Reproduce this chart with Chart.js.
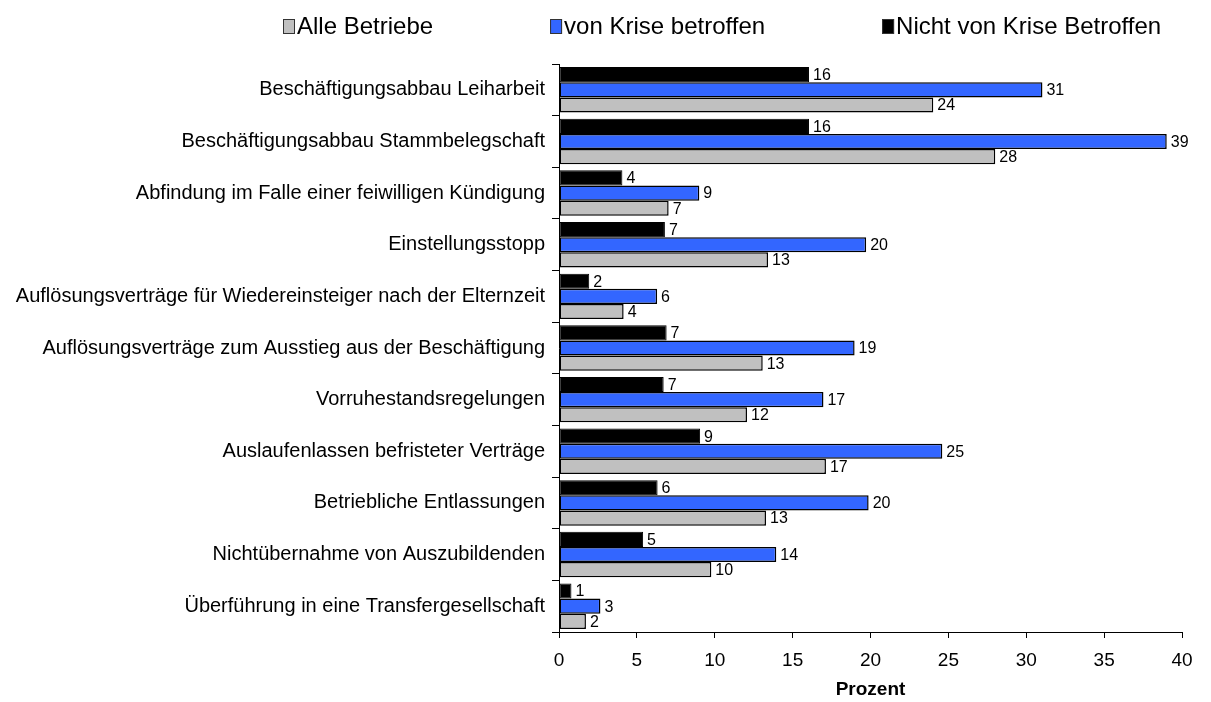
<!DOCTYPE html>
<html><head><meta charset="utf-8">
<script src="https://cdn.jsdelivr.net/npm/chart.js@4.4.1/dist/chart.umd.min.js"></script>
<style>html,body{margin:0;padding:0;background:#fff;}#wrap{width:1211px;height:702px;position:relative;}</style>
</head><body><div id="wrap"><canvas id="c" width="1211" height="702"></canvas></div>
<script>
const categories = [
  "Beschäftigungsabbau Leiharbeit",
  "Beschäftigungsabbau Stammbelegschaft",
  "Abfindung im Falle einer feiwilligen Kündigung",
  "Einstellungsstopp",
  "Auflösungsverträge für Wiedereinsteiger nach der Elternzeit",
  "Auflösungsverträge zum Ausstieg aus der Beschäftigung",
  "Vorruhestandsregelungen",
  "Auslaufenlassen befristeter Verträge",
  "Betriebliche Entlassungen",
  "Nichtübernahme von Auszubildenden",
  "Überführung in eine Transfergesellschaft"
];
const nichtBetroffen = [16.05, 16.05, 4.07, 6.8, 1.94, 6.91, 6.72, 9.06, 6.33, 5.4, 0.8];
const betroffen      = [31.04, 39.02, 9.01, 19.72, 6.3, 18.98, 16.98, 24.61, 19.88, 13.95, 2.66];
const alleBetriebe   = [24.03, 28.01, 7.04, 13.42, 4.15, 13.08, 12.07, 17.14, 13.29, 9.78, 1.73];
const xTicks = [0, 5, 10, 15, 20, 25, 30, 35, 40];
const seriesNames = ["Alle Betriebe", "von Krise betroffen", "Nicht von Krise Betroffen"];

const FONT = "'Liberation Sans', Arial, sans-serif";

const valueLabels = {
  id: 'valueLabels',
  afterDatasetsDraw(chart) {
    const ctx = chart.ctx;
    ctx.save();
    ctx.font = "16px " + FONT;
    ctx.fillStyle = "#000";
    ctx.textAlign = "left";
    ctx.textBaseline = "middle";
    chart.data.datasets.forEach((ds, i) => {
      const meta = chart.getDatasetMeta(i);
      meta.data.forEach((bar, j) => {
        ctx.fillText(String(Math.round(ds.data[j])), bar.x + 4, bar.y + 1);
      });
    });
    ctx.restore();
  }
};

const customLegend = {
  id: 'customLegend',
  afterDraw(chart) {
    const ctx = chart.ctx;
    ctx.save();
    ctx.font = "24px " + FONT;
    ctx.textBaseline = "middle";
    ctx.textAlign = "left";
    const order = [2, 1, 0];
    let x = 283;
    const y = 26;
    order.forEach((di) => {
      const ds = chart.data.datasets[di];
      ctx.fillStyle = ds.backgroundColor;
      ctx.fillRect(x, y - 7, 12, 15);
      ctx.strokeStyle = "#333";
      ctx.lineWidth = 1;
      ctx.strokeRect(x + 0.5, y - 6.5, 11, 14);
      ctx.fillStyle = "#000";
      ctx.fillText(ds.label, x + 14, y + 1);
      x += 14 + ctx.measureText(ds.label).width + 117;
    });
    ctx.restore();
  }
};

new Chart(document.getElementById('c'), {
  type: 'bar',
  data: {
    labels: categories,
    datasets: [
      { label: seriesNames[2], data: nichtBetroffen, backgroundColor: '#000000', borderColor: '#000000', borderWidth: 1 },
      { label: seriesNames[1], data: betroffen, backgroundColor: '#3366FF', borderColor: '#000000', borderWidth: 1.5 },
      { label: seriesNames[0], data: alleBetriebe, backgroundColor: '#C0C0C0', borderColor: '#000000', borderWidth: 1.5 }
    ]
  },
  options: {
    indexAxis: 'y',
    responsive: false,
    animation: false,
    devicePixelRatio: 1,
    layout: { padding: { top: 64, right: 29, left: 0, bottom: 0 } },
    datasets: { bar: { categoryPercentage: 0.88, barPercentage: 1.0, borderSkipped: false } },
    plugins: { legend: { display: false }, tooltip: { enabled: false } },
    scales: {
      x: {
        min: 0, max: 40,
        afterBuildTicks(scale) { scale.ticks = xTicks.map(v => ({ value: v })); },
        grid: { drawOnChartArea: false, drawTicks: true, tickLength: 6, color: '#000' },
        border: { display: true, color: '#000', width: 1 },
        ticks: { color: '#000', font: { family: FONT, size: 19 }, padding: 11 },
        title: { display: true, text: 'Prozent', color: '#000', font: { family: FONT, size: 19, weight: 'bold' }, padding: { top: 0, bottom: 1 } },
        afterFit(scale) { scale.height = 70; }
      },
      y: {
        grid: { drawOnChartArea: false, drawTicks: true, tickLength: 7, color: '#000', offset: true },
        border: { display: true, color: '#000', width: 1 },
        ticks: { color: '#000', font: { family: FONT, size: 20 }, padding: 7, autoSkip: false },
        afterFit(scale) { scale.width = 559; }
      }
    }
  },
  plugins: [valueLabels, customLegend]
});
</script>
</body></html>
